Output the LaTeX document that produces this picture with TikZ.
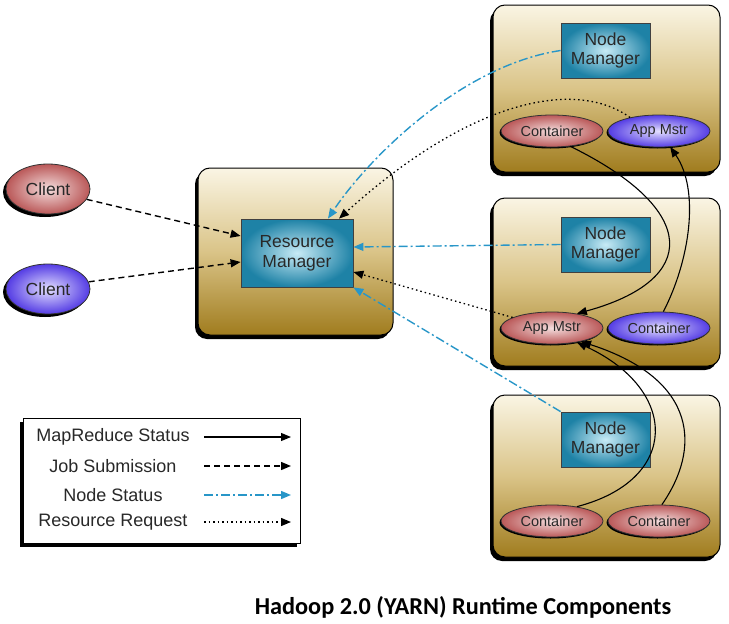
\documentclass[tikz,border=0pt]{standalone}
\usepackage{fontspec}
\setmainfont{Liberation Sans}
\newfontfamily\titlefont{Carlito}
\usetikzlibrary{shadows,arrows.meta,calc,shapes.geometric}
\definecolor{cream}{RGB}{250,245,228}
\definecolor{tan}{RGB}{218,196,136}
\definecolor{gold}{RGB}{160,124,30}
\definecolor{tealout}{RGB}{30,130,166}
\definecolor{tealin}{RGB}{200,235,246}
\definecolor{pinkout}{RGB}{186,88,88}
\definecolor{pinkin}{RGB}{244,222,222}
\definecolor{purpout}{RGB}{84,60,228}
\definecolor{purpin}{RGB}{228,224,255}
\definecolor{nsblue}{RGB}{40,150,200}
\definecolor{txt}{RGB}{40,40,40}
\begin{document}
\begin{tikzpicture}[x=1pt,y=-1pt,
  outerbox/.style={draw=black,line width=1pt,rounded corners=12pt,
    top color=cream,bottom color=gold,middle color=tan,
    drop shadow={shadow xshift=-3pt,shadow yshift=-4pt,fill=black,opacity=1},
    inner sep=0pt},
  innerbox/.style={draw=black!75,line width=0.8pt,inner color=tealin,outer color=tealout,
    minimum width=89pt,minimum height=55pt,align=center,inner sep=0pt,
    font=\fontsize{17.5}{19.5}\selectfont,text=txt},
  ell/.style={ellipse,draw=black!80,line width=0.8pt,minimum width=102pt,minimum height=32pt,
    inner sep=0pt,font=\fontsize{14.5}{16}\selectfont,text=txt,
    drop shadow={shadow xshift=-1.5pt,shadow yshift=-1.5pt,fill=black,opacity=1}},
  pinkell/.style={ell,inner color=pinkin,outer color=pinkout},
  purpell/.style={ell,inner color=purpin,outer color=purpout},
  clientell/.style={ell,minimum width=84pt,minimum height=50pt,font=\fontsize{17.5}{19}\selectfont,
    drop shadow={shadow xshift=-3pt,shadow yshift=-3pt,fill=black,opacity=1}},
  tip/.style={-{Triangle[length=10pt,width=8pt]}},
  mr/.style={tip,draw=black,line width=1.1pt},
  js/.style={tip,draw=black,line width=1.4pt,dash pattern=on 6pt off 4pt},
  ns/.style={tip,draw=nsblue,line width=1.4pt,dash pattern=on 9pt off 3pt on 2pt off 3pt},
  rr/.style={tip,draw=black,line width=1.3pt,dash pattern=on 1.5pt off 3pt},
  legtext/.style={font=\fontsize{18}{20}\selectfont,text=txt,inner sep=0pt}
]
\useasboundingbox (0,0) rectangle (729,624);

% outer boxes
\node[outerbox,minimum width=227pt,minimum height=167pt] (b1) at (606.5,88.5) {};
\node[outerbox,minimum width=227pt,minimum height=168pt] (b2) at (606.5,282) {};
\node[outerbox,minimum width=227pt,minimum height=162pt] (b3) at (606.5,476) {};
\node[outerbox,minimum width=195pt,minimum height=167pt] (b0) at (295.5,251.5) {};

% inner boxes
\node[innerbox,minimum width=112pt,minimum height=68pt,font=\fontsize{17.5}{20}\selectfont] (rm) at (297,253) {Resource\\Manager};
\node[innerbox] (nm1) at (605.5,50.5) {Node\\Manager};
\node[innerbox] (nm2) at (605.5,244.5) {Node\\Manager};
\node[innerbox] (nm3) at (605.5,439.5) {Node\\Manager};

% ellipses
\node[pinkell] (ct1) at (552,131) {Container};
\node[purpell] (am1) at (659,131) {App Mstr};
\node[pinkell] (am2) at (552,328) {App Mstr};
\node[purpell] (ct2) at (659,328) {Container};
\node[pinkell] (ct3) at (552,521) {Container};
\node[pinkell] (ct4) at (659,521) {Container};

% clients
\node[clientell,inner color=pinkin,outer color=pinkout] (c1) at (48,189) {Client};
\node[clientell,inner color=purpin,outer color=purpout] (c2) at (48,289) {Client};

% job submission
\draw[js] (c1.-15) -- ($(rm.west)+(0,-17)$);
\draw[js] (c2.10) -- ($(rm.west)+(0,9)$);

% node status
\draw[ns] (nm1.west) .. controls +(-100,15) and +(40,-60) .. ($(rm.north)+(31,0)$);
\draw[ns] (nm2.west) -- ($(rm.east)+(0,-6)$);
\draw[ns] (nm3.north west) -- (rm.south east);

% resource request
\draw[rr] (am1.155) .. controls (575,78) and (470,100) .. ($(rm.north)+(42,0)$);
\draw[rr] (am2.165) -- ($(rm.east)+(0,19)$);

% mapreduce status
\draw[mr] (ct1.-40) .. controls (700,210) and (700,280) .. (am2.30);
\draw[mr] (ct2.75) .. controls (690,260) and (700,190) .. (am1.-55);
\draw[mr] (ct3.30) .. controls (680,480) and (680,390) .. (am2.-30);
\draw[mr] (ct4.80) .. controls (700,450) and (700,380) .. (am2.-25);

% legend
\node[draw=black,line width=1pt,fill=white,minimum width=277pt,minimum height=125pt,inner sep=0pt,
  drop shadow={shadow xshift=-3pt,shadow yshift=-4pt,fill=black,opacity=1}] (leg) at (161.5,480.5) {};
\node[legtext] (t1) at (113,437) {MapReduce Status};
\node[legtext] (t2) at (113,466) {Job Submission};
\node[legtext] (t3) at (113,495) {Node Status};
\node[legtext] (t4) at (113,522) {Resource Request};
\coordinate (l1a) at (204,437); \coordinate (l1b) at (291,437);
\coordinate (l2a) at (204,466); \coordinate (l2b) at (291,466);
\coordinate (l3a) at (204,495); \coordinate (l3b) at (291,495);
\coordinate (l4a) at (204,522); \coordinate (l4b) at (291,522);
\draw[mr] (l1a) -- (l1b);
\draw[js] (l2a) -- (l2b);
\draw[ns] (l3a) -- (l3b);
\draw[rr] (l4a) -- (l4b);

% title
\node[font=\titlefont\bfseries\fontsize{24.3}{26}\selectfont,inner sep=0pt] (title) at (463,607) {Hadoop 2.0 (YARN) Runtime Components};
\end{tikzpicture}
\end{document}
